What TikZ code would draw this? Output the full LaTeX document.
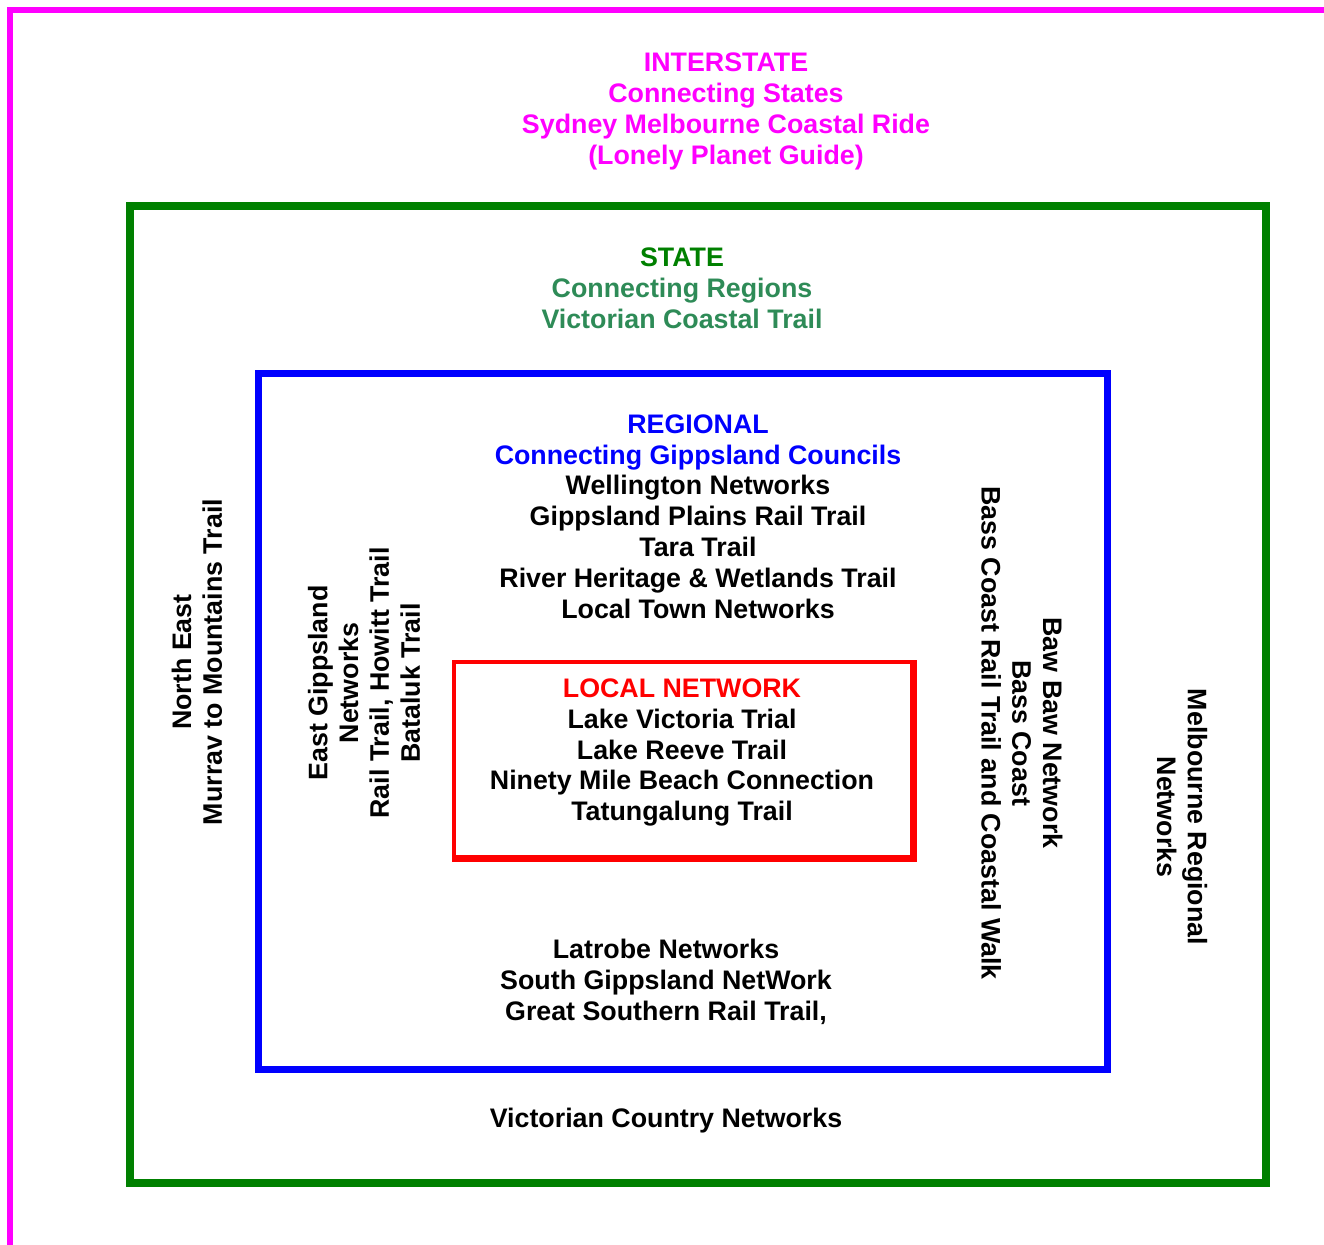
\documentclass[tikz,border=0pt]{standalone}
\usepackage{fontspec}
\setmainfont{Liberation Sans}
\definecolor{mag}{RGB}{255,0,255}
\definecolor{frgreen}{RGB}{0,128,0}
\definecolor{sgreen}{RGB}{46,139,87}
\definecolor{bblue}{RGB}{0,0,255}
\definecolor{rred}{RGB}{255,0,0}
\begin{document}
\begin{tikzpicture}[x=1pt,y=-1pt,
  lbl/.style={inner sep=0pt,align=center,font=\fontsize{26.8}{30.8}\selectfont\bfseries}]
\useasboundingbox (0,0) rectangle (1324,1244);
\fill[white] (0,0) rectangle (1324,1244);
% frames
\draw[mag,line width=6pt] (10,1260) -- (10,10.5) -- (1340,10.5);
\draw[frgreen,line width=8pt] (130,206) rectangle (1266,1183);
\draw[bblue,line width=7pt] (258.5,373.5) rectangle (1107,1069.5);
\fill[rred] (452,660) rectangle (917,862);
\fill[white] (456,664) rectangle (910,855);
% texts
\node[lbl,text=mag] (inter) at (726,111.5) {INTERSTATE\\Connecting States\\Sydney Melbourne Coastal Ride\\(Lonely Planet Guide)};
\node[lbl] (state) at (682,288) {\textcolor{frgreen}{STATE}\\\textcolor{sgreen}{Connecting Regions}\\\textcolor{sgreen}{Victorian Coastal Trail}};
\node[lbl] (regional) at (698,516.5) {\textcolor{bblue}{REGIONAL}\\\textcolor{bblue}{Connecting Gippsland Councils}\\Wellington Networks\\Gippsland Plains Rail Trail\\Tara Trail\\River Heritage \& Wetlands Trail\\Local Town Networks};
\node[lbl] (local) at (682,752.5) {\textcolor{rred}{LOCAL NETWORK}\\Lake Victoria Trial\\Lake Reeve Trail\\Ninety Mile Beach Connection\\Tatungalung Trail};
\node[lbl] (south) at (666,982) {Latrobe Networks\\South Gippsland NetWork\\Great Southern Rail Trail,};
\node[lbl] (country) at (666,1121) {Victorian Country Networks};
\node[lbl,rotate=90] (northeast) at (197,662) {North East\\Murrav to Mountains Trail};
\node[lbl,rotate=90] (eastgipps) at (364,683) {East Gippsland\\Networks\\Rail Trail, Howitt Trail\\Bataluk Trail};
\node[lbl,rotate=-90] (bawbaw) at (1022,733) {Baw Baw Network\\Bass Coast\\Bass Coast Rail Trail and Coastal Walk};
\node[lbl,rotate=-90] (melb) at (1182,817) {Melbourne Regional\\Networks};
\end{tikzpicture}
\end{document}
